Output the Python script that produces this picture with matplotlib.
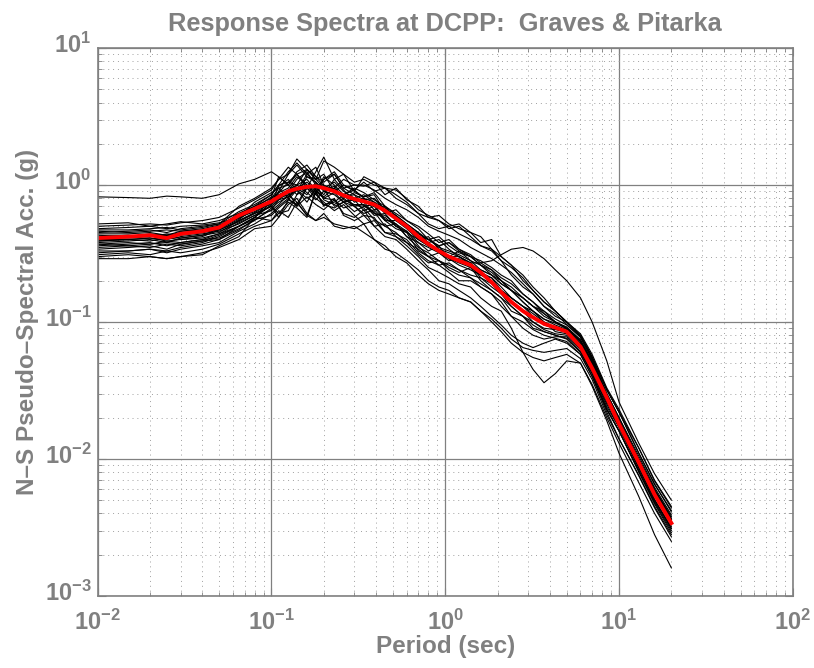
import matplotlib
matplotlib.use("Agg")
import matplotlib.pyplot as plt
from matplotlib.transforms import ScaledTranslation

# periods (sec) shared by every spectrum
periods = [0.01, 0.015, 0.02, 0.025, 0.03, 0.04, 0.05, 0.065, 0.08,
           0.1, 0.11, 0.125, 0.14, 0.16, 0.18, 0.2, 0.23, 0.26, 0.3,
           0.34, 0.39, 0.45, 0.52, 0.6, 0.7, 0.8, 0.92, 1.05, 1.2,
           1.4, 1.6, 1.85, 2.1, 2.4, 2.8, 3.2, 3.7, 4.3, 5.0,
           6.0, 7.0, 8.5, 10.0, 13.0, 16.0, 20.0]

# individual realisations (g)
sa_01 = [.82, .81, .80, .83, .82, .80, .85, 1.02, 1.10,
         1.25, 1.15, 1.00, 1.20, 1.30, 1.10, .95, 1.05, .90, .80,
         .85, .75, .62, .66, .55, .48, .40, .36, .38, .33,
         .30, .26, .22, .20, .17, .15, .13, .115, .10, .090,
         .072, .050, .029, .019, .0098, .0058, .0036]
sa_02 = [.52, .53, .50, .52, .54, .52, .55, .62, .70,
         .85, 1.00, 1.05, 1.20, .95, 1.25, 1.60, 1.10, 1.20, .90,
         1.15, 1.05, .95, .92, .80, .66, .60, .55, .50, .52,
         .45, .38, .40, .30, .26, .20, .17, .14, .12, .10,
         .080, .055, .032, .022, .011, .0065, .0042]
sa_03 = [.30, .31, .30, .29, .30, .31, .36, .42, .58,
         .55, .62, .75, .68, .58, .90, .70, .80, .60, .55,
         .60, .50, .42, .40, .34, .28, .24, .20, .19, .17,
         .15, .13, .11, .095, .080, .070, .065, .070, .075, .070,
         .058, .040, .023, .016, .0080, .0047, .0029]
sa_04 = [.45, .46, .47, .45, .48, .50, .52, .70, .80,
         .95, 1.10, 1.20, 1.40, 1.15, 1.10, 1.50, 1.35, 1.20, 1.05,
         1.10, 1.00, .95, .85, .75, .62, .58, .60, .52, .48,
         .45, .42, .34, .28, .22, .18, .16, .13, .11, .10,
         .078, .053, .030, .020, .010, .0060, .0038]
sa_05 = [.38, .39, .40, .38, .41, .43, .45, .55, .62,
         .70, .62, .65, .85, .95, .80, .72, .75, .85, .70,
         .62, .66, .55, .48, .45, .33, .30, .28, .25, .23,
         .25, .20, .17, .15, .12, .11, .10, .088, .082, .080,
         .064, .044, .025, .017, .0086, .0051, .0031]
sa_06 = [.35, .36, .35, .37, .36, .38, .42, .50, .58,
         .72, .80, .90, 1.10, 1.25, 1.00, .95, .70, .75, .78,
         .65, .70, .55, .55, .50, .40, .36, .33, .30, .33,
         .28, .24, .22, .19, .17, .14, .12, .105, .095, .088,
         .070, .048, .027, .018, .0091, .0054, .0034]
sa_07 = [.48, .49, .50, .48, .50, .51, .53, .58, .75,
         .88, .95, 1.00, .85, 1.15, 1.05, .92, .98, .80, .88,
         .82, .88, .70, .60, .52, .45, .38, .40, .34, .30,
         .26, .24, .22, .19, .17, .14, .12, .10, .085, .082,
         .068, .047, .027, .018, .0094, .0056, .0035]
sa_08 = [.33, .33, .34, .32, .34, .36, .38, .46, .52,
         .62, .70, .80, .70, .95, .85, .75, .65, .72, .60,
         .52, .55, .45, .42, .36, .30, .25, .23, .21, .19,
         .18, .15, .13, .12, .090, .060, .045, .036, .042, .052,
         .050, .034, .019, .011, .0053, .0028, .0016]
sa_09 = [.42, .43, .42, .44, .43, .45, .50, .62, .70,
         .80, .88, .95, 1.15, 1.00, .85, 1.10, 1.20, .95, .85,
         .78, .80, .65, .60, .52, .45, .40, .42, .36, .32,
         .30, .28, .25, .22, .20, .16, .14, .12, .105, .095,
         .078, .055, .032, .022, .012, .0070, .0045]
sa_10 = [.40, .40, .41, .40, .42, .44, .46, .52, .60,
         .65, .72, .85, .75, .60, .90, .80, .78, .68, .72,
         .68, .56, .50, .45, .38, .34, .30, .26, .27, .24,
         .21, .19, .17, .15, .13, .11, .090, .085, .080, .075,
         .060, .042, .023, .016, .0081, .0048, .0030]
sa_11 = [.50, .51, .52, .51, .53, .55, .58, .68, .78,
         .92, 1.10, 1.35, 1.20, 1.00, .90, 1.10, 1.25, 1.00, .92,
         1.05, .90, .95, .80, .72, .62, .52, .48, .50, .44,
         .40, .36, .33, .28, .25, .21, .17, .14, .12, .10,
         .082, .058, .033, .023, .012, .0069, .0044]
sa_12 = [.36, .37, .38, .36, .38, .40, .41, .48, .55,
         .68, .75, .82, .95, .85, 1.05, .78, .72, .80, .70,
         .60, .58, .45, .44, .40, .32, .28, .26, .23, .20,
         .20, .18, .16, .14, .11, .090, .080, .075, .078, .078,
         .063, .044, .024, .017, .0086, .0050, .0032]
sa_13 = [.44, .44, .45, .43, .46, .47, .50, .57, .66,
         .78, .85, .92, 1.00, 1.30, 1.15, .98, .90, .85, .92,
         .80, .75, .68, .58, .50, .44, .40, .35, .33, .31,
         .28, .26, .23, .20, .17, .15, .13, .11, .10, .090,
         .074, .051, .029, .019, .010, .0060, .0037]
sa_14 = [.39, .40, .39, .41, .40, .42, .47, .55, .63,
         .74, .80, .85, .95, 1.05, .92, .80, .88, .75, .70,
         .72, .62, .58, .50, .45, .40, .36, .34, .32, .30,
         .27, .27, .28, .31, .34, .35, .33, .29, .24, .20,
         .15, .10, .052, .026, .013, .0078, .0050]
sa_15 = [.31, .32, .31, .33, .32, .34, .37, .44, .50,
         .55, .65, .58, .75, .60, .55, .62, .50, .48, .50,
         .45, .40, .36, .30, .27, .22, .19, .17, .16, .15,
         .14, .12, .105, .090, .075, .065, .062, .060, .062, .064,
         .054, .038, .021, .014, .0075, .0044, .0027]
sa_16 = [.47, .47, .48, .49, .47, .49, .52, .64, .72,
         .85, 1.00, 1.25, 1.45, 1.20, 1.05, .90, .95, 1.10, 1.00,
         .98, 1.05, .85, .95, .78, .70, .58, .55, .48, .50,
         .42, .36, .34, .30, .26, .22, .18, .15, .12, .10,
         .080, .056, .032, .022, .011, .0066, .0041]
sa_17 = [.34, .35, .36, .34, .37, .39, .40, .47, .56,
         .66, .78, .88, .70, .82, .72, .66, .78, .62, .58,
         .66, .50, .52, .42, .38, .31, .27, .28, .24, .22,
         .21, .18, .16, .13, .11, .10, .088, .080, .076, .072,
         .058, .040, .022, .014, .0076, .0045, .0028]
sa_18 = [.43, .42, .44, .43, .45, .46, .48, .56, .68,
         .72, .98, 1.10, .90, 1.20, 1.35, 1.00, .92, .82, .85,
         .70, .72, .56, .52, .42, .38, .33, .36, .29, .26,
         .24, .22, .20, .17, .15, .13, .11, .095, .090, .086,
         .069, .048, .027, .018, .0092, .0055, .0034]
sa_19 = [.29, .29, .30, .29, .30, .32, .35, .40, .48,
         .50, .58, .72, .80, .62, .55, .58, .52, .50, .48,
         .52, .40, .34, .32, .28, .24, .20, .18, .17, .15,
         .14, .12, .10, .085, .070, .060, .055, .052, .055, .058,
         .050, .035, .020, .013, .0067, .0040, .0025]
sa_20 = [.41, .41, .42, .43, .41, .43, .48, .58, .64,
         .76, .88, 1.05, 1.00, .88, .78, .90, .85, .75, .80,
         .75, .62, .60, .52, .46, .38, .35, .32, .28, .29,
         .26, .21, .19, .16, .14, .12, .10, .090, .088, .084,
         .067, .046, .026, .018, .0091, .0054, .0033]
sa_21 = [.46, .45, .46, .47, .46, .48, .51, .60, .68,
         .82, 1.15, 1.00, 1.25, 1.40, 1.15, 1.05, 1.20, .95, 1.00,
         1.00, .92, .80, .72, .66, .58, .50, .46, .43, .40,
         .35, .32, .29, .26, .23, .19, .16, .13, .115, .096,
         .077, .054, .030, .020, .0105, .0062, .0039]
sa_22 = [.37, .38, .37, .39, .38, .40, .44, .53, .60,
         .70, .58, .78, .92, .80, .88, .72, .68, .75, .64,
         .70, .64, .50, .52, .42, .35, .32, .28, .26, .24,
         .22, .21, .18, .16, .13, .11, .095, .085, .080, .076,
         .061, .042, .023, .016, .0083, .0049, .0031]
sa_23 = [.39, .40, .41, .39, .40, .41, .44, .50, .58,
         .75, .90, 1.20, 1.55, 1.30, 1.10, 1.20, .90, 1.00, .90,
         .82, .85, .64, .60, .50, .42, .40, .36, .38, .34,
         .30, .26, .24, .21, .19, .16, .14, .115, .10, .089,
         .072, .050, .028, .019, .0096, .0057, .0036]
sa_24 = [.32, .33, .34, .33, .35, .37, .40, .50, .58,
         .80, .95, .80, 1.00, 1.10, .92, .82, .95, .78, .72,
         .72, .60, .62, .50, .46, .36, .30, .32, .29, .27,
         .25, .22, .21, .18, .15, .13, .12, .105, .098, .090,
         .072, .050, .028, .019, .0098, .0058, .0036]
sa_25 = [.37, .36, .37, .38, .37, .39, .43, .50, .56,
         .60, .68, .78, .72, .98, .88, 1.15, 1.00, .85, .95,
         .88, .78, .70, .62, .55, .50, .44, .38, .40, .34,
         .31, .27, .24, .20, .18, .15, .13, .12, .10, .092,
         .074, .052, .029, .019, .0097, .0058, .0036]
sa_26 = [.42, .42, .43, .42, .44, .45, .47, .54, .62,
         .70, .78, .82, .92, .75, .95, .85, 1.10, .92, .75,
         .80, .66, .70, .55, .48, .40, .42, .34, .30, .30,
         .27, .23, .21, .17, .15, .13, .115, .10, .092, .085,
         .068, .047, .026, .018, .0093, .0055, .0034]

# average spectrum (red)
sa_mean = [.41, .42, .43, .41, .44, .46, .49, .60, .67,
           .76, .82, .90, .94, .97, .98, .95, .90, .84, .79,
           .76, .72, .65, .57, .50, .42, .37, .33, .30, .28,
           .26, .23, .195, .165, .14, .12, .108, .097, .091, .085,
           .066, .046, .028, .018, .0094, .0055, .0034]

records = [sa_01, sa_02, sa_03, sa_04, sa_05, sa_06, sa_07, sa_08, sa_09,
           sa_10, sa_11, sa_12, sa_13, sa_14, sa_15, sa_16, sa_17, sa_18,
           sa_19, sa_20, sa_21, sa_22, sa_23, sa_24, sa_25, sa_26]

gray = "#808080"
plt.rcParams["font.family"] = ["Liberation Sans", "DejaVu Sans"]
plt.rcParams["font.weight"] = "bold"
plt.rcParams["mathtext.fontset"] = "custom"
plt.rcParams["mathtext.rm"] = "Liberation Sans:bold"
plt.rcParams["mathtext.it"] = "Liberation Sans:bold"
plt.rcParams["mathtext.bf"] = "Liberation Sans:bold"
plt.rcParams["mathtext.default"] = "rm"

fig = plt.figure(figsize=(8.14, 6.68), dpi=100)
ax = fig.add_axes([0.120, 0.108, 0.854, 0.820])

for sa in records:
    ax.loglog(periods, sa, color="black", lw=0.8)
ax.loglog(periods, sa_mean, color="red", lw=2.8)

ax.set_xlim(1e-2, 1e2)
ax.set_ylim(1e-3, 1e1)

ax.grid(True, which="major", color=gray, ls="-", lw=0.9)
ax.grid(True, which="minor", color="#a0a0a0", ls=(0, (1, 4)), lw=0.7)

ax.tick_params(which="both", direction="in", top=True, right=True, colors=gray,
               labelcolor=gray, labelsize=17)
ax.tick_params(which="major", length=6)
ax.tick_params(which="minor", length=3)
ax.tick_params(axis="x", pad=10)
ax.tick_params(axis="y", pad=4.5)
for s in ax.spines.values():
    s.set_color(gray)
    s.set_linewidth(1.2)

# keep the "10" of the y labels centred on the tick, exponent above
fig.canvas.draw()
for lab in ax.get_yticklabels():
    lab.set_transform(lab.get_transform() + ScaledTranslation(0, 4 / 72, fig.dpi_scale_trans))

ax.set_title("Response Spectra at DCPP:  Graves & Pitarka", color=gray,
             fontsize=18.3, fontweight="bold", pad=12)
ax.set_xlabel("Period (sec)", color=gray, fontsize=17.5, fontweight="bold", labelpad=0)
ax.set_ylabel("N\u2013S Pseudo\u2013Spectral Acc. (g)", color=gray, fontsize=17.5,
              fontweight="bold", labelpad=4)

fig.savefig("out.png", dpi=100)
